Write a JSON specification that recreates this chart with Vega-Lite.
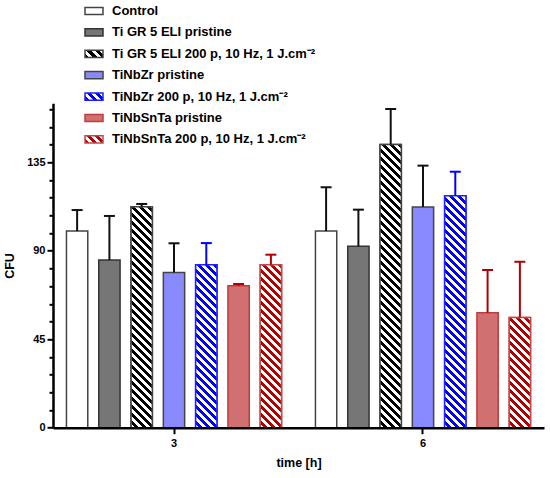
{
  "$schema": "https://vega.github.io/schema/vega-lite/v6.json",
  "width": 491,
  "height": 324.4,
  "autosize": {"type": "none"},
  "padding": {"left": 53, "top": 103.3, "right": 6, "bottom": 50.3},
  "background": "white",
  "params": [
    {"name": "barFill", "value": {"Control": "#ffffff", "Ti GR 5 ELI pristine": "#767676", "Ti GR 5 ELI 200 p, 10 Hz, 1 J.cm⁻²": "#000000", "TiNbZr pristine": "#8a8aff", "TiNbZr 200 p, 10 Hz, 1 J.cm⁻²": "#0000ff", "TiNbSnTa pristine": "#d07070", "TiNbSnTa 200 p, 10 Hz, 1 J.cm⁻²": "#b00000"}},
    {"name": "stripeStops", "value": [
      {"offset":0,"color":"#fff"},{"offset":0.0125,"color":"#fff"},{"offset":0.0125,"color":"rgba(255,255,255,0)"},{"offset":0.025,"color":"rgba(255,255,255,0)"},
      {"offset":0.025,"color":"#fff"},{"offset":0.0375,"color":"#fff"},{"offset":0.0375,"color":"rgba(255,255,255,0)"},{"offset":0.05,"color":"rgba(255,255,255,0)"},
      {"offset":0.05,"color":"#fff"},{"offset":0.0625,"color":"#fff"},{"offset":0.0625,"color":"rgba(255,255,255,0)"},{"offset":0.075,"color":"rgba(255,255,255,0)"},
      {"offset":0.075,"color":"#fff"},{"offset":0.0875,"color":"#fff"},{"offset":0.0875,"color":"rgba(255,255,255,0)"},{"offset":0.1,"color":"rgba(255,255,255,0)"},
      {"offset":0.1,"color":"#fff"},{"offset":0.1125,"color":"#fff"},{"offset":0.1125,"color":"rgba(255,255,255,0)"},{"offset":0.125,"color":"rgba(255,255,255,0)"},
      {"offset":0.125,"color":"#fff"},{"offset":0.1375,"color":"#fff"},{"offset":0.1375,"color":"rgba(255,255,255,0)"},{"offset":0.15,"color":"rgba(255,255,255,0)"},
      {"offset":0.15,"color":"#fff"},{"offset":0.1625,"color":"#fff"},{"offset":0.1625,"color":"rgba(255,255,255,0)"},{"offset":0.175,"color":"rgba(255,255,255,0)"},
      {"offset":0.175,"color":"#fff"},{"offset":0.1875,"color":"#fff"},{"offset":0.1875,"color":"rgba(255,255,255,0)"},{"offset":0.2,"color":"rgba(255,255,255,0)"},
      {"offset":0.2,"color":"#fff"},{"offset":0.2125,"color":"#fff"},{"offset":0.2125,"color":"rgba(255,255,255,0)"},{"offset":0.225,"color":"rgba(255,255,255,0)"},
      {"offset":0.225,"color":"#fff"},{"offset":0.2375,"color":"#fff"},{"offset":0.2375,"color":"rgba(255,255,255,0)"},{"offset":0.25,"color":"rgba(255,255,255,0)"},
      {"offset":0.25,"color":"#fff"},{"offset":0.2625,"color":"#fff"},{"offset":0.2625,"color":"rgba(255,255,255,0)"},{"offset":0.275,"color":"rgba(255,255,255,0)"},
      {"offset":0.275,"color":"#fff"},{"offset":0.2875,"color":"#fff"},{"offset":0.2875,"color":"rgba(255,255,255,0)"},{"offset":0.3,"color":"rgba(255,255,255,0)"},
      {"offset":0.3,"color":"#fff"},{"offset":0.3125,"color":"#fff"},{"offset":0.3125,"color":"rgba(255,255,255,0)"},{"offset":0.325,"color":"rgba(255,255,255,0)"},
      {"offset":0.325,"color":"#fff"},{"offset":0.3375,"color":"#fff"},{"offset":0.3375,"color":"rgba(255,255,255,0)"},{"offset":0.35,"color":"rgba(255,255,255,0)"},
      {"offset":0.35,"color":"#fff"},{"offset":0.3625,"color":"#fff"},{"offset":0.3625,"color":"rgba(255,255,255,0)"},{"offset":0.375,"color":"rgba(255,255,255,0)"},
      {"offset":0.375,"color":"#fff"},{"offset":0.3875,"color":"#fff"},{"offset":0.3875,"color":"rgba(255,255,255,0)"},{"offset":0.4,"color":"rgba(255,255,255,0)"},
      {"offset":0.4,"color":"#fff"},{"offset":0.4125,"color":"#fff"},{"offset":0.4125,"color":"rgba(255,255,255,0)"},{"offset":0.425,"color":"rgba(255,255,255,0)"},
      {"offset":0.425,"color":"#fff"},{"offset":0.4375,"color":"#fff"},{"offset":0.4375,"color":"rgba(255,255,255,0)"},{"offset":0.45,"color":"rgba(255,255,255,0)"},
      {"offset":0.45,"color":"#fff"},{"offset":0.4625,"color":"#fff"},{"offset":0.4625,"color":"rgba(255,255,255,0)"},{"offset":0.475,"color":"rgba(255,255,255,0)"},
      {"offset":0.475,"color":"#fff"},{"offset":0.4875,"color":"#fff"},{"offset":0.4875,"color":"rgba(255,255,255,0)"},{"offset":0.5,"color":"rgba(255,255,255,0)"},
      {"offset":0.5,"color":"#fff"},{"offset":0.5125,"color":"#fff"},{"offset":0.5125,"color":"rgba(255,255,255,0)"},{"offset":0.525,"color":"rgba(255,255,255,0)"},
      {"offset":0.525,"color":"#fff"},{"offset":0.5375,"color":"#fff"},{"offset":0.5375,"color":"rgba(255,255,255,0)"},{"offset":0.55,"color":"rgba(255,255,255,0)"},
      {"offset":0.55,"color":"#fff"},{"offset":0.5625,"color":"#fff"},{"offset":0.5625,"color":"rgba(255,255,255,0)"},{"offset":0.575,"color":"rgba(255,255,255,0)"},
      {"offset":0.575,"color":"#fff"},{"offset":0.5875,"color":"#fff"},{"offset":0.5875,"color":"rgba(255,255,255,0)"},{"offset":0.6,"color":"rgba(255,255,255,0)"},
      {"offset":0.6,"color":"#fff"},{"offset":0.6125,"color":"#fff"},{"offset":0.6125,"color":"rgba(255,255,255,0)"},{"offset":0.625,"color":"rgba(255,255,255,0)"},
      {"offset":0.625,"color":"#fff"},{"offset":0.6375,"color":"#fff"},{"offset":0.6375,"color":"rgba(255,255,255,0)"},{"offset":0.65,"color":"rgba(255,255,255,0)"},
      {"offset":0.65,"color":"#fff"},{"offset":0.6625,"color":"#fff"},{"offset":0.6625,"color":"rgba(255,255,255,0)"},{"offset":0.675,"color":"rgba(255,255,255,0)"},
      {"offset":0.675,"color":"#fff"},{"offset":0.6875,"color":"#fff"},{"offset":0.6875,"color":"rgba(255,255,255,0)"},{"offset":0.7,"color":"rgba(255,255,255,0)"},
      {"offset":0.7,"color":"#fff"},{"offset":0.7125,"color":"#fff"},{"offset":0.7125,"color":"rgba(255,255,255,0)"},{"offset":0.725,"color":"rgba(255,255,255,0)"},
      {"offset":0.725,"color":"#fff"},{"offset":0.7375,"color":"#fff"},{"offset":0.7375,"color":"rgba(255,255,255,0)"},{"offset":0.75,"color":"rgba(255,255,255,0)"},
      {"offset":0.75,"color":"#fff"},{"offset":0.7625,"color":"#fff"},{"offset":0.7625,"color":"rgba(255,255,255,0)"},{"offset":0.775,"color":"rgba(255,255,255,0)"},
      {"offset":0.775,"color":"#fff"},{"offset":0.7875,"color":"#fff"},{"offset":0.7875,"color":"rgba(255,255,255,0)"},{"offset":0.8,"color":"rgba(255,255,255,0)"},
      {"offset":0.8,"color":"#fff"},{"offset":0.8125,"color":"#fff"},{"offset":0.8125,"color":"rgba(255,255,255,0)"},{"offset":0.825,"color":"rgba(255,255,255,0)"},
      {"offset":0.825,"color":"#fff"},{"offset":0.8375,"color":"#fff"},{"offset":0.8375,"color":"rgba(255,255,255,0)"},{"offset":0.85,"color":"rgba(255,255,255,0)"},
      {"offset":0.85,"color":"#fff"},{"offset":0.8625,"color":"#fff"},{"offset":0.8625,"color":"rgba(255,255,255,0)"},{"offset":0.875,"color":"rgba(255,255,255,0)"},
      {"offset":0.875,"color":"#fff"},{"offset":0.8875,"color":"#fff"},{"offset":0.8875,"color":"rgba(255,255,255,0)"},{"offset":0.9,"color":"rgba(255,255,255,0)"},
      {"offset":0.9,"color":"#fff"},{"offset":0.9125,"color":"#fff"},{"offset":0.9125,"color":"rgba(255,255,255,0)"},{"offset":0.925,"color":"rgba(255,255,255,0)"},
      {"offset":0.925,"color":"#fff"},{"offset":0.9375,"color":"#fff"},{"offset":0.9375,"color":"rgba(255,255,255,0)"},{"offset":0.95,"color":"rgba(255,255,255,0)"},
      {"offset":0.95,"color":"#fff"},{"offset":0.9625,"color":"#fff"},{"offset":0.9625,"color":"rgba(255,255,255,0)"},{"offset":0.975,"color":"rgba(255,255,255,0)"},
      {"offset":0.975,"color":"#fff"},{"offset":0.9875,"color":"#fff"},{"offset":0.9875,"color":"rgba(255,255,255,0)"},{"offset":1,"color":"rgba(255,255,255,0)"}
    ]}
  ],
  "data": {"values": [
    {"time": "3", "series": "Control", "CFU": 100.0, "upper": 110.7},
    {"time": "3", "series": "Ti GR 5 ELI pristine", "CFU": 85.3, "upper": 107.7},
    {"time": "3", "series": "Ti GR 5 ELI 200 p, 10 Hz, 1 J.cm⁻²", "CFU": 112.4, "upper": 113.8},
    {"time": "3", "series": "TiNbZr pristine", "CFU": 79.0, "upper": 93.8},
    {"time": "3", "series": "TiNbZr 200 p, 10 Hz, 1 J.cm⁻²", "CFU": 82.9, "upper": 93.9},
    {"time": "3", "series": "TiNbSnTa pristine", "CFU": 72.2, "upper": 73.1},
    {"time": "3", "series": "TiNbSnTa 200 p, 10 Hz, 1 J.cm⁻²", "CFU": 82.9, "upper": 88.0},
    {"time": "6", "series": "Control", "CFU": 100.0, "upper": 122.3},
    {"time": "6", "series": "Ti GR 5 ELI pristine", "CFU": 92.3, "upper": 110.9},
    {"time": "6", "series": "Ti GR 5 ELI 200 p, 10 Hz, 1 J.cm⁻²", "CFU": 144.0, "upper": 162.1},
    {"time": "6", "series": "TiNbZr pristine", "CFU": 112.3, "upper": 133.3},
    {"time": "6", "series": "TiNbZr 200 p, 10 Hz, 1 J.cm⁻²", "CFU": 118.0, "upper": 130.2},
    {"time": "6", "series": "TiNbSnTa pristine", "CFU": 58.5, "upper": 80.2},
    {"time": "6", "series": "TiNbSnTa 200 p, 10 Hz, 1 J.cm⁻²", "CFU": 56.1, "upper": 84.4}
  ]},
  "encoding": {
    "x": {"field": "time", "type": "nominal",
      "scale": {"paddingInner": 0.092, "paddingOuter": 0.032},
      "axis": {"title": "time [h]", "labelAngle": 0, "tickSize": 6, "tickWidth": 2, "domainWidth": 2.5,
        "labelFontSize": 11, "labelFontWeight": "bold", "labelPadding": 4, "titlePadding": 8, "zindex": 1}},
    "xOffset": {"field": "series", "type": "nominal",
      "sort": ["Control", "Ti GR 5 ELI pristine", "Ti GR 5 ELI 200 p, 10 Hz, 1 J.cm⁻²", "TiNbZr pristine", "TiNbZr 200 p, 10 Hz, 1 J.cm⁻²", "TiNbSnTa pristine", "TiNbSnTa 200 p, 10 Hz, 1 J.cm⁻²"],
      "scale": {"paddingInner": 0.34, "paddingOuter": 0.17}}
  },
  "resolve": {"axis": {"y": "independent"}},
  "layer": [
    {
      "mark": {"type": "bar", "strokeWidth": 1.5,
        "fill": {"expr": "datum.series ? barFill[datum.series] : (indexof(datum.value, '200 p') < 0 ? barFill[datum.value] : {gradient: 'linear', x1: 0, y1: 1, x2: 1.2069, y2: 0.5172, stops: [{offset: 0, color: barFill[datum.value]}, {offset: 0.1667, color: barFill[datum.value]}, {offset: 0.1667, color: '#fff'}, {offset: 0.3333, color: '#fff'}, {offset: 0.3333, color: barFill[datum.value]}, {offset: 0.5, color: barFill[datum.value]}, {offset: 0.5, color: '#fff'}, {offset: 0.6667, color: '#fff'}, {offset: 0.6667, color: barFill[datum.value]}, {offset: 0.8333, color: barFill[datum.value]}, {offset: 0.8333, color: '#fff'}, {offset: 1, color: '#fff'}]})"}},
      "encoding": {
        "y": {"field": "CFU", "type": "quantitative", "stack": null,
          "scale": {"domain": [0, 165], "nice": false, "zero": true},
          "axis": {"title": "CFU", "grid": false, "orient": "left",
            "values": [0, 45, 90, 135],
            "tickSize": 6, "tickWidth": 2, "domainWidth": 2.5, "labelFontSize": 11, "labelFontWeight": "bold",
            "labelPadding": 2, "titlePadding": 10, "zindex": 1}},
        "stroke": {"field": "series", "type": "nominal",
          "scale": {"domain": ["Control", "Ti GR 5 ELI pristine", "Ti GR 5 ELI 200 p, 10 Hz, 1 J.cm⁻²", "TiNbZr pristine", "TiNbZr 200 p, 10 Hz, 1 J.cm⁻²", "TiNbSnTa pristine", "TiNbSnTa 200 p, 10 Hz, 1 J.cm⁻²"],
            "range": ["#444444", "#333333", "#444444", "#444444", "#2020ff", "#c03c3c", "#c04a4a"]},
          "legend": {"title": null, "orient": "none", "legendX": 31, "legendY": -102.3, "padding": 0,
            "symbolType": "M-1,-0.4H1V0.4H-1Z", "symbolSize": 324, "symbolStrokeWidth": 1.5, "symbolOpacity": 1,
            "labelFont": "Liberation Sans", "labelFontWeight": "bold", "labelFontSize": 13, "labelColor": "#000",
            "labelOffset": 8, "rowPadding": 4.4, "labelLimit": 400}}
      }
    },
    {
      "transform": [{"filter": "indexof(datum.series, '200 p') >= 0"}],
      "mark": {"type": "bar", "strokeWidth": 1.5,
        "stroke": {"expr": "scale('stroke', datum.series)"},
        "fill": {"expr": "{gradient: 'linear', x1: 0, y1: 1, x2: 320*bandwidth('xOffset')/(pow(bandwidth('xOffset'),2)+pow(scale('y',0)-scale('y',datum.CFU),2)), y2: 1-320*(scale('y',0)-scale('y',datum.CFU))/(pow(bandwidth('xOffset'),2)+pow(scale('y',0)-scale('y',datum.CFU),2)), stops: stripeStops}"}},
      "encoding": {
        "y": {"field": "CFU", "type": "quantitative", "stack": null, "axis": null}
      }
    },
    {
      "mark": {"type": "rule", "strokeWidth": 2},
      "encoding": {
        "y": {"field": "CFU", "type": "quantitative",
          "axis": {"orient": "left", "title": null, "labels": false, "domain": false, "grid": false,
            "values": [9, 18, 27, 36, 54, 63, 72, 81, 99, 108, 117, 126, 144, 153, 162],
            "tickSize": 4, "tickWidth": 2, "zindex": 1}},
        "y2": {"field": "upper"},
        "color": {"field": "series", "type": "nominal",
          "scale": {"domain": ["Control", "Ti GR 5 ELI 200 p, 10 Hz, 1 J.cm⁻²", "Ti GR 5 ELI pristine", "TiNbSnTa 200 p, 10 Hz, 1 J.cm⁻²", "TiNbSnTa pristine", "TiNbZr 200 p, 10 Hz, 1 J.cm⁻²", "TiNbZr pristine"],
            "range": ["#111111", "#111111", "#111111", "#b00000", "#b00000", "#0000ff", "#111111"]},
          "legend": null}
      }
    },
    {
      "mark": {"type": "tick", "thickness": 2, "size": 11, "opacity": 1},
      "encoding": {
        "y": {"field": "upper", "type": "quantitative", "axis": null},
        "color": {"field": "series", "type": "nominal", "legend": null}
      }
    }
  ],
  "config": {
    "font": "Liberation Sans",
    "view": {"stroke": null},
    "axis": {"domainColor": "#000", "tickColor": "#000", "labelColor": "#000", "titleColor": "#000",
      "labelFont": "Liberation Sans", "titleFont": "Liberation Sans", "titleFontSize": 12.5, "titleFontWeight": "bold"}
  }
}
